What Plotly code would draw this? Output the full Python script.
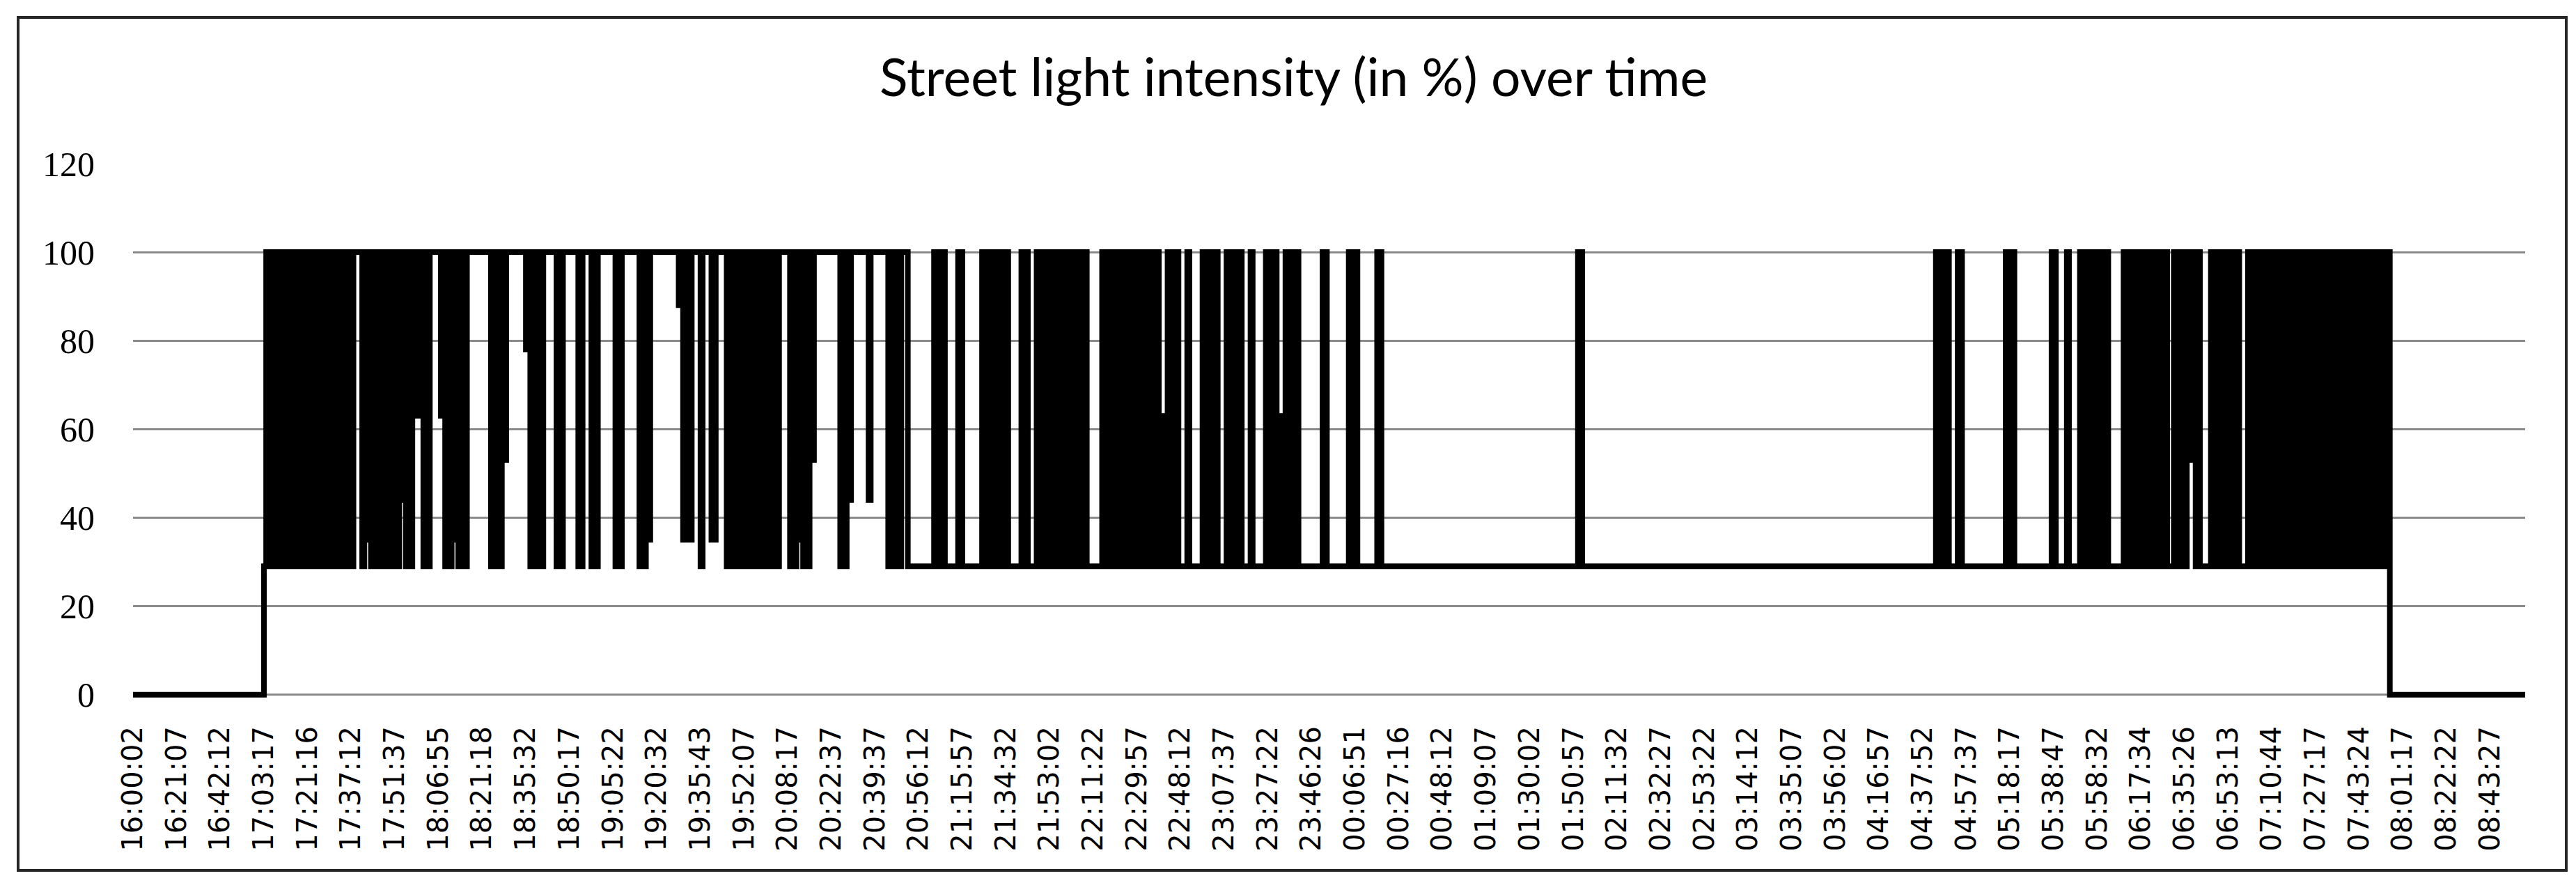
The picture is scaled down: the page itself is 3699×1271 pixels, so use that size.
""" Street light intensity (in %) over one night, redrawn from an Excel line chart.

"""
import plotly.graph_objects as go

# x-axis labels, one every `samples_per_label` logged samples
time_labels = [
    '16:00:02', '16:21:07', '16:42:12', '17:03:17', '17:21:16', '17:37:12', '17:51:37',
    '18:06:55', '18:21:18', '18:35:32', '18:50:17', '19:05:22', '19:20:32', '19:35:43',
    '19:52:07', '20:08:17', '20:22:37', '20:39:37', '20:56:12', '21:15:57', '21:34:32',
    '21:53:02', '22:11:22', '22:29:57', '22:48:12', '23:07:37', '23:27:22', '23:46:26',
    '00:06:51', '00:27:16', '00:48:12', '01:09:07', '01:30:02', '01:50:57', '02:11:32',
    '02:32:27', '02:53:22', '03:14:12', '03:35:07', '03:56:02', '04:16:57', '04:37:52',
    '04:57:37', '05:18:17', '05:38:47', '05:58:32', '06:17:34', '06:35:26', '06:53:13',
    '07:10:44', '07:27:17', '07:43:24', '08:01:17', '08:22:22', '08:43:27',
]
samples_per_label = 20

# lamp state per sample (one string per label interval)
# Z = off, L = dimmed, H = full, digits = short partial dips
intensity_codes = [
    'ZZZZZZZZZZZZZZZZZZZZ', 'ZZZZZZZZZZZZZZZZZZZZ', 'ZZZZZZZZZZZZZZZZZZZZ',
    'LHLHLHLHLHLHLHLHLHLH', 'LHLHLHLHLHLHLHLHLHLH', 'LHHHHLH3HLHLHLHLHLHL',
    'HLH4HLHLH6H6HLHLHHHH', 'H6HLHLH3HLHLLHHHHHHH', 'HHHHLHLHLH5HHHHHHHHH',
    '8HLHLHLLHHHHHHLHLHHH', 'HHHHLLHHHHLHLHHHHHHH', 'HLHLHHHHHHHHLHLH3HHH',
    'HHHHHHHHHH9H3H33HHHH', 'LHHHH33HHHHHLHLHLHLH', 'LHLHLHLHLHLHLHLLHHHH',
    'HLHLH3HLHLH5HHHHHHHH', 'HHHHLHLH4HHHHHHHH4HH', 'HHHHHHLHLHLLHHHLLLLL',
    'LLLLLLLHLHLHLLLLLLHH', 'LLLLLLLLLHLHLHLHLHLH', 'HLLLLLLHLHLLLLHLHLHL',
    'HLHLHLHLHLHLHLHLHLLL', 'LLLLHLHLHLHLHLHLHLHL', 'HLHLHLHLHHL6LLHLHLHL',
    'LLLHLLLLLLHLHLHLHLLL', 'LHLHLHLHLLLLHLLLLLLH', 'LHLHL6LLHLHLHHLLLLLL',
    'LLLLLHHLLLLLLLLLLHLH', 'HLLLLLLLLLHHLLLLLLLL', 'LLLLLLLLLLLLLLLLLLLL',
    'LLLLLLLLLLLLLLLLLLLL', 'LLLLLLLLLLLLLLLLLLLL', 'LLLLLLLLLLLLLLLLLLLL',
    'LLHHLLLLLLLLLLLLLLLL', 'LLLLLLLLLLLLLLLLLLLL', 'LLLLLLLLLLLLLLLLLLLL',
    'LLLLLLLLLLLLLLLLLLLL', 'LLLLLLLLLLLLLLLLLLLL', 'LLLLLLLLLLLLLLLLLLLL',
    'LLLLLLLLLLLLLLLLLLLL', 'LLLLLLLLLLLLLLLLLLLL', 'LLLLLLHLHLHHLLLLHHLL',
    'LLLLLLLLLLLLLLLLLLHL', 'HHLLLLLLLLLLLLLLLLLH', 'HLLLLLHLLLLLHLHLHLHL',
    'HLHLHLLLLLLLHLHLHLHL', 'HLHLHLHLHLHHLLLHLHLH', 'LHH5HLHLLLLLHLHLHLHL',
    'HLHLHLLLLHLHLHLHLHLH', 'LHLHLHLHLHLHLHLHLHLH', 'LHLHLHLHLHLHLHLHLHLH',
    'LHLHLHLHLHLHLHZZZZZZ', 'ZZZZZZZZZZZZZZZZZZZZ', 'ZZZZZZZZZZZZZZZZZZZZ',
    'ZZZZZZZZZZZZZZZZZ',
]
code_levels = {'Z': 0, 'L': 29, 'H': 100, '3': 35, '4': 44, '5': 53, '6': 63, '8': 78, '9': 88}

y_ticks = [0, 20, 40, 60, 80, 100, 120]
title = 'Street light intensity (in %) over time'

# sanity check on the hand-typed strings
for i, chunk in enumerate(intensity_codes[:-1]):
    if len(chunk) != samples_per_label:
        raise ValueError('chunk {} has {} samples'.format(i, len(chunk)))

codes = ''.join(intensity_codes)
x = [i / samples_per_label for i in range(len(codes))]
y = [code_levels[c] for c in codes]

# Layout geometry (pixels of the 3699x1271 page)
W, H = 3699, 1271
left, right, top, bottom = 183, 3618, 227, 996
frame = dict(l=18, r=3677, t=17, b=1242)

fig = go.Figure()
fig.add_trace(go.Scatter(
    x=x, y=y, mode='lines', line=dict(color='black', width=8, shape='hv', simplify=False),
    showlegend=False, hoverinfo='skip'))

fig.update_xaxes(
    range=[0, x[-1]], tickmode='array', tickvals=list(range(len(time_labels))), ticktext=time_labels,
    tickangle=-90, ticks='outside', ticklen=22, tickcolor='rgba(0,0,0,0)',
    tickfont=dict(family='DejaVu Sans', size=40, color='black'),
    showgrid=False, zeroline=False, showline=False)
fig.update_yaxes(
    range=[-1, 120], tickmode='array', tickvals=y_ticks,
    ticks='outside', ticklen=44, tickcolor='rgba(0,0,0,0)',
    tickfont=dict(family='Liberation Serif', size=50, color='black'),
    showgrid=True, gridcolor='#8a8a8a', gridwidth=3, zeroline=False, showline=False)

pw, ph = right - left, bottom - top
fig.add_shape(
    type='rect', xref='paper', yref='paper',
    x0=(frame['l'] - left) / pw, x1=(frame['r'] - left) / pw,
    y0=(bottom - frame['b']) / ph, y1=(bottom - frame['t']) / ph,
    line=dict(color='#262626', width=4), fillcolor='rgba(0,0,0,0)', layer='above')

fig.update_layout(
    width=W, height=H, autosize=False,
    margin=dict(l=left, r=W - right, t=top, b=H - bottom, pad=0),
    paper_bgcolor='white', plot_bgcolor='white',
    title=dict(text=title, x=0.5, xanchor='center', y=1 - 104 / H, yanchor='middle',
               font=dict(family='Lato', size=75, color='black')))

fig.write_html('out.html')
